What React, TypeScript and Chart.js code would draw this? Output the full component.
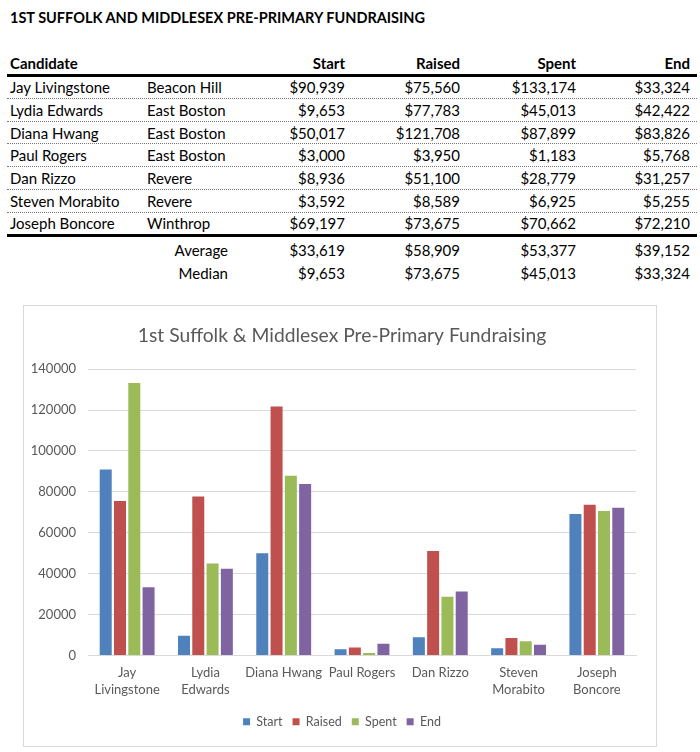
import React, { useEffect, useRef } from "react";
import { Chart, registerables } from "chart.js";
Chart.register(...registerables);

const pageTitle = "1ST SUFFOLK AND MIDDLESEX PRE-PRIMARY FUNDRAISING";
const chartTitle = "1st Suffolk & Middlesex Pre-Primary Fundraising";
const candidates = ["Jay Livingstone", "Lydia Edwards", "Diana Hwang", "Paul Rogers", "Dan Rizzo", "Steven Morabito", "Joseph Boncore"];
const towns = ["Beacon Hill", "East Boston", "East Boston", "East Boston", "Revere", "Revere", "Winthrop"];
const seriesNames = ["Start", "Raised", "Spent", "End"];
const startVals = [90939, 9653, 50017, 3000, 8936, 3592, 69197];
const raisedVals = [75560, 77783, 121708, 3950, 51100, 8589, 73675];
const spentVals = [133174, 45013, 87899, 1183, 28779, 6925, 70662];
const endVals = [33324, 42422, 83826, 5768, 31257, 5255, 72210];
const averageVals = [33619, 58909, 53377, 39152];
const medianVals = [9653, 73675, 45013, 33324];
const chartLabels: (string | string[])[] = [["Jay", "Livingstone"], ["Lydia", "Edwards"], "Diana Hwang", "Paul Rogers", "Dan Rizzo", ["Steven", "Morabito"], ["Joseph", "Boncore"]];
const yMax = 140000;
const yStep = 20000;
const colors = ["#4F81BD", "#C0504D", "#9BBB59", "#8064A2"];

const FONT = "Lato, 'Noto Sans', sans-serif";
const money = (v: number) => "$" + v.toLocaleString("en-US");

// column geometry (left edge, width, align)
const cols = [
  { left: 3, width: 137, align: "left" as const },
  { left: 140, width: 118, align: "left" as const },
  { left: 258, width: 80, align: "right" as const },
  { left: 338, width: 115, align: "right" as const },
  { left: 453, width: 116, align: "right" as const },
  { left: 569, width: 114, align: "right" as const },
];

function Cell({ i, text, bold }: { i: number; text: string; bold?: boolean }) {
  const c = cols[i];
  return (
    <div
      style={{
        position: "absolute",
        left: c.left,
        width: c.width,
        textAlign: c.align,
        top: 0,
        bottom: 0,
        display: "flex",
        alignItems: "center",
        justifyContent: c.align === "right" ? "flex-end" : "flex-start",
        fontWeight: bold ? 700 : 400,
        whiteSpace: "nowrap",
      }}
    >
      {text}
    </div>
  );
}

function DataTable() {
  const pitch = 22.67;
  const rowsTop = 76.5;
  const rows = candidates.map((c, i) => [c, towns[i], money(startVals[i]), money(raisedVals[i]), money(spentVals[i]), money(endVals[i])]);
  return (
    <div style={{ position: "absolute", left: 7, top: 0, width: 690, height: 290, fontSize: 15, color: "#000" }}>
      <div style={{ position: "absolute", left: 0, top: 52, width: 690, height: 21.5, borderBottom: "3px solid #000" }}>
        <Cell i={0} text="Candidate" bold />
        {seriesNames.map((s, k) => (
          <Cell key={s} i={k + 2} text={s} bold />
        ))}
      </div>
      {rows.map((r, i) => (
        <div
          key={i}
          style={{
            position: "absolute",
            left: 0,
            top: rowsTop + i * pitch,
            width: 690,
            height: pitch - 1,
            borderBottom: i === rows.length - 1 ? "3px solid #000" : "1px dotted #777",
          }}
        >
          {r.map((t, k) => (
            <Cell key={k} i={k} text={t} />
          ))}
        </div>
      ))}
      {[["Average", averageVals], ["Median", medianVals]].map(([label, vals], j) => (
        <div key={j} style={{ position: "absolute", left: 0, top: 239 + j * pitch, width: 690, height: pitch }}>
          <div style={{ position: "absolute", left: 0, width: 221, top: 0, bottom: 0, display: "flex", alignItems: "center", justifyContent: "flex-end" }}>
            {label as string}
          </div>
          {(vals as number[]).map((v, k) => (
            <Cell key={k} i={k + 2} text={money(v)} />
          ))}
        </div>
      ))}
    </div>
  );
}

function BarChart() {
  const ref = useRef<HTMLCanvasElement | null>(null);
  useEffect(() => {
    if (!ref.current) return;
    const text = "#595959";
    const chart = new Chart(ref.current, {
      type: "bar",
      data: {
        labels: chartLabels,
        datasets: [startVals, raisedVals, spentVals, endVals].map((d, k) => ({
          label: seriesNames[k],
          data: d,
          backgroundColor: colors[k],
          borderWidth: 0,
          categoryPercentage: 0.73,
          barPercentage: 0.84,
        })),
      },
      options: {
        animation: false,
        responsive: false,
        maintainAspectRatio: false,
        layout: { padding: { left: 24, right: 20, top: 0, bottom: 8 } },
        plugins: {
          title: {
            display: true,
            text: chartTitle,
            color: text,
            font: { family: FONT, size: 19.3, weight: "normal", lineHeight: 1.2 },
            padding: { top: 18, bottom: 22 },
          },
          legend: {
            position: "bottom",
            labels: {
              boxWidth: 7,
              boxHeight: 7,
              padding: 10,
              color: text,
              font: { family: FONT, size: 12.5 },
            },
          },
          tooltip: { enabled: false },
        },
        scales: {
          x: {
            grid: { display: false, drawTicks: false },
            border: { display: true, color: "#d9d9d9", width: 1 },
            ticks: { color: text, font: { family: FONT, size: 13, lineHeight: 1.28 }, padding: 9, maxRotation: 0, autoSkip: false },
            afterFit: (s: any) => {
              s.height = 50;
            },
          },
          y: {
            min: 0,
            max: yMax,
            ticks: { stepSize: yStep, color: text, font: { family: FONT, size: 13 }, padding: 12, callback: (v: any) => String(v) },
            grid: { color: "#d9d9d9", drawTicks: false },
            border: { display: false },
            afterFit: (s: any) => {
              s.width = 40;
              // let tick labels extend into the layout padding instead of clipping them
              s._computeLabelArea = () => undefined;
            },
          },
        },
      },
    });
    return () => chart.destroy();
  }, []);
  return <canvas ref={ref} width={632} height={440} style={{ display: "block", width: 632, height: 440 }} />;
}

export default function App() {
  return (
    <div style={{ position: "absolute", left: 0, top: 0, width: 700, height: 752, background: "#fff", fontFamily: FONT, overflow: "hidden" }}>
      <div style={{ position: "absolute", left: 10, top: 8, height: 20, lineHeight: "20px", fontSize: 14.5, fontWeight: 700, color: "#000", whiteSpace: "nowrap" }}>
        {pageTitle}
      </div>
      <DataTable />
      <div style={{ position: "absolute", left: 23, top: 305, width: 632, height: 440, border: "1px solid #d9d9d9" }}>
        <BarChart />
      </div>
    </div>
  );
}
